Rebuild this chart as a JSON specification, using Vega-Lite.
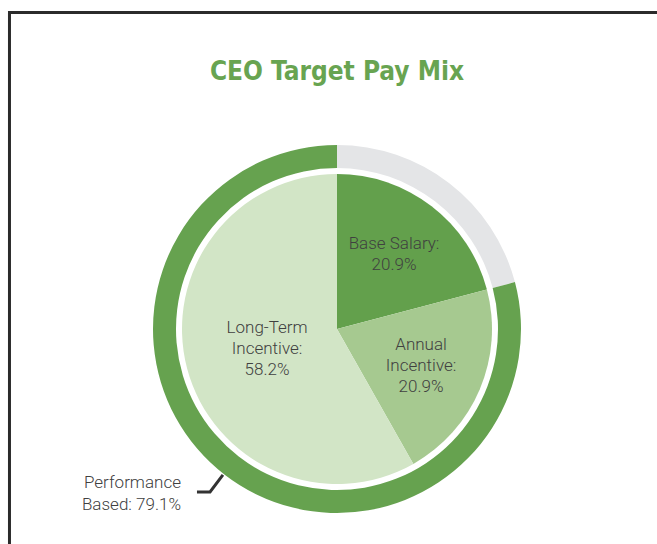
{
  "$schema": "https://vega.github.io/schema/vega-lite/v6.json",
  "width": 368,
  "height": 368,
  "autosize": {"type": "none"},
  "padding": {"left": 153, "top": 145, "right": 136, "bottom": 31},
  "background": "white",
  "config": {"view": {"stroke": null}},
  "layer": [
    {
      "data": {"values": [{"x": -1.78, "x2": 1.9, "y": 1.72, "y2": -1.3}]},
      "mark": {"type": "rect", "fillOpacity": 0, "stroke": "#2b2b2b", "strokeWidth": 3},
      "encoding": {
        "x": {"field": "x", "type": "quantitative", "scale": {"domain": [-1, 1], "nice": false, "zero": false}, "axis": null},
        "x2": {"field": "x2"},
        "y": {"field": "y", "type": "quantitative", "scale": {"domain": [-1, 1], "nice": false, "zero": false}, "axis": null},
        "y2": {"field": "y2"}
      }
    },
    {
      "data": {"values": [{"title": "CEO Target Pay Mix", "u": 0, "v": 1.353}]},
      "mark": {"type": "text", "font": "DejaVu Sans Condensed, Liberation Sans, sans-serif", "fontWeight": "bold", "fontSize": 26, "color": "#68a451", "align": "center", "baseline": "alphabetic"},
      "encoding": {
        "x": {"field": "u", "type": "quantitative", "scale": {"domain": [-1, 1], "nice": false, "zero": false}, "axis": null},
        "y": {"field": "v", "type": "quantitative", "scale": {"domain": [-1, 1], "nice": false, "zero": false}, "axis": null},
        "text": {"field": "title"}
      }
    },
    {
      "data": {"values": [
        {"part": "Base (non-performance)", "value": 20.9, "o": 1},
        {"part": "Performance Based", "value": 79.1, "o": 2}
      ]},
      "mark": {"type": "arc", "outerRadius": 184, "innerRadius": 161},
      "encoding": {
        "theta": {"field": "value", "type": "quantitative", "stack": true},
        "order": {"field": "o", "type": "quantitative"},
        "color": {"field": "part", "type": "nominal", "legend": null,
          "scale": {"domain": ["Base (non-performance)", "Performance Based", "Base Salary", "Annual Incentive", "Long-Term Incentive"],
                    "range": ["#e4e5e7", "#66a24f", "#63a04c", "#a6c990", "#d2e5c6"]}}
      }
    },
    {
      "data": {"values": [
        {"part": "Base Salary", "value": 20.9, "o": 1},
        {"part": "Annual Incentive", "value": 20.9, "o": 2},
        {"part": "Long-Term Incentive", "value": 58.2, "o": 3}
      ]},
      "mark": {"type": "arc", "outerRadius": 155, "innerRadius": 0},
      "encoding": {
        "theta": {"field": "value", "type": "quantitative", "stack": true},
        "order": {"field": "o", "type": "quantitative"},
        "color": {"field": "part", "type": "nominal", "legend": null,
          "scale": {"domain": ["Base (non-performance)", "Performance Based", "Base Salary", "Annual Incentive", "Long-Term Incentive"],
                    "range": ["#e4e5e7", "#66a24f", "#63a04c", "#a6c990", "#d2e5c6"]}}
      }
    },
    {
      "data": {"values": [
        {"label": "Base Salary:\n20.9%", "u": 0.31, "v": 0.462},
        {"label": "Long-Term\nIncentive:\n58.2%", "u": -0.38, "v": 0.005},
        {"label": "Annual\nIncentive:\n20.9%", "u": 0.457, "v": -0.087}
      ]},
      "mark": {"type": "text", "lineBreak": "\n", "font": "Roboto", "fontWeight": 300, "fontSize": 17, "lineHeight": 21, "color": "#404040", "align": "center", "baseline": "middle"},
      "encoding": {
        "x": {"field": "u", "type": "quantitative", "scale": {"domain": [-1, 1], "nice": false, "zero": false}, "axis": null},
        "y": {"field": "v", "type": "quantitative", "scale": {"domain": [-1, 1], "nice": false, "zero": false}, "axis": null},
        "text": {"field": "label"}
      }
    },
    {
      "data": {"values": [
        {"label": "Performance\nBased: 79.1%", "u": -0.848, "v": -0.837}
      ]},
      "mark": {"type": "text", "lineBreak": "\n", "font": "Roboto", "fontWeight": 300, "fontSize": 17, "lineHeight": 22, "color": "#404040", "align": "right", "baseline": "middle"},
      "encoding": {
        "x": {"field": "u", "type": "quantitative", "scale": {"domain": [-1, 1], "nice": false, "zero": false}, "axis": null},
        "y": {"field": "v", "type": "quantitative", "scale": {"domain": [-1, 1], "nice": false, "zero": false}, "axis": null},
        "text": {"field": "label"}
      }
    },
    {
      "data": {"values": [
        {"u": -0.761, "v": -0.886, "i": 1},
        {"u": -0.690, "v": -0.886, "i": 2},
        {"u": -0.620, "v": -0.793, "i": 3}
      ]},
      "mark": {"type": "line", "color": "#333333", "strokeWidth": 3},
      "encoding": {
        "x": {"field": "u", "type": "quantitative", "scale": {"domain": [-1, 1], "nice": false, "zero": false}, "axis": null},
        "y": {"field": "v", "type": "quantitative", "scale": {"domain": [-1, 1], "nice": false, "zero": false}, "axis": null},
        "order": {"field": "i", "type": "quantitative"}
      }
    }
  ]
}
